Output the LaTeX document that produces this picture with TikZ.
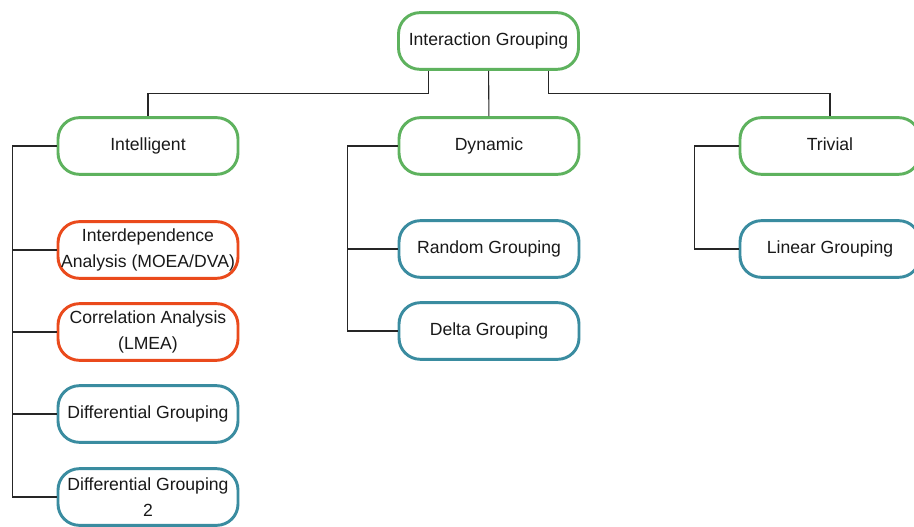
\documentclass[tikz,border=0pt]{standalone}
\usepackage{fontspec}
\setmainfont{Liberation Sans}
\usepackage{tikz}
\usetikzlibrary{positioning, calc}
\definecolor{grpgreen}{RGB}{94,178,94}
\definecolor{grpred}{RGB}{234,74,28}
\definecolor{grpteal}{RGB}{58,140,160}
\tikzset{
    box/.style={draw, rounded corners=16pt, line width=2.2pt, fill=white,
        minimum width=135pt, minimum height=42.5pt, inner sep=1pt, align=center,
        text=black!90, font=\fontsize{13.2}{20}\selectfont},
    oneline/.style={text height=9.6pt, text depth=2.8pt},
    topbox/.style={box, oneline, draw=grpgreen},
    redbox/.style={box, draw=grpred},
    leafbox/.style={box, draw=grpteal},
    link/.style={draw=black!85, line width=0.8pt}
}
\begin{document}
\begin{tikzpicture}[x=0.75pt, y=-0.75pt]
    \useasboundingbox (0,0) rectangle (914,527);
    % top and middle level
    \node[topbox] (root) at (488.5,41) {Interaction Grouping};
    \node[topbox] (intel) at (148,146) {Intelligent};
    \node[topbox] (dyn) at (489,146) {Dynamic};
    \node[topbox] (triv) at (830,146) {Trivial};
    % leaves
    \node[redbox] (inter) at (148,250) {Interdependence\\Analysis (MOEA/DVA)};
    \node[redbox] (corr) at (148,332) {Correlation Analysis\\(LMEA)};
    \node[leafbox, oneline] (diff) at (148,414) {Differential Grouping};
    \node[leafbox] (diff2) at (148,497) {Differential Grouping\\2};
    \node[leafbox, oneline] (rand) at (489,249) {Random Grouping};
    \node[leafbox, oneline] (delta) at (489,331) {Delta Grouping};
    \node[leafbox, oneline] (lin) at (830,249) {Linear Grouping};
    % connectors
    \draw[link] ([xshift=-45pt]root.south) -- ++(0,23) -| (intel.north);
    \draw[link] ([xshift=45pt]root.south) -- ++(0,23) -| (triv.north);
    \draw[link] (root) -- (dyn);
    \draw[link] (intel.west) -| ([xshift=-33pt]diff2.west) -- (diff2.west);
    \foreach \n in {inter,corr,diff} \draw[link] (\n.west) -- ++(-44,0);
    \draw[link] (dyn.west) -| ([xshift=-37.5pt]delta.west) -- (delta.west);
    \draw[link] (rand.west) -- ++(-50,0);
    \draw[link] (triv.west) -| ([xshift=-33pt]lin.west) -- (lin.west);
\end{tikzpicture}
\end{document}
